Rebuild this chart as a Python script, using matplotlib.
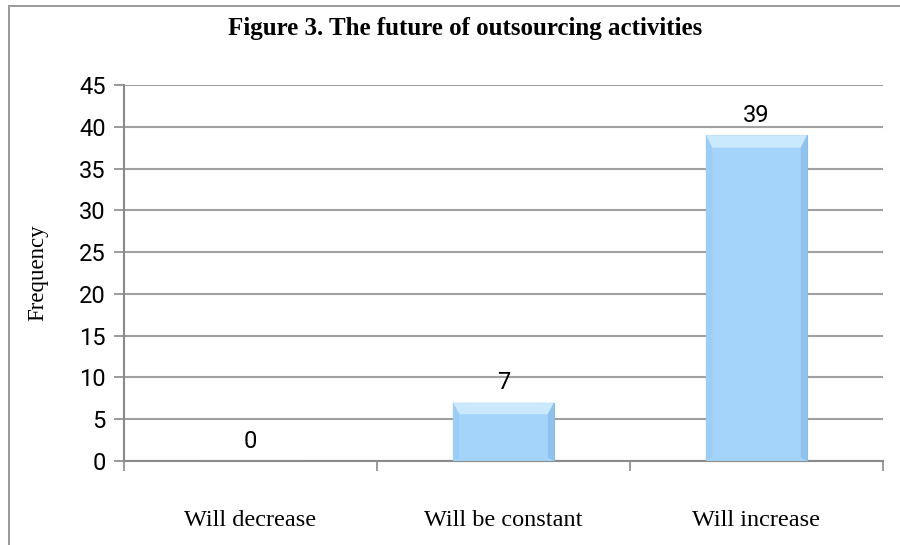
import matplotlib
matplotlib.use("Agg")
import matplotlib.pyplot as plt
from matplotlib.patches import Rectangle, Polygon
import numpy as np

# data
categories = ["Will decrease", "Will be constant", "Will increase"]
frequency = [0, 7, 39]
yticks = [0, 5, 10, 15, 20, 25, 30, 35, 40, 45]

title = "Figure 3. The future of outsourcing activities"
ylabel = "Frequency"

fig = plt.figure(figsize=(9, 5.45), dpi=100)
ax = fig.add_axes([124 / 900, 1 - 461 / 545, (883 - 124) / 900, (461 - 85) / 545])

# outer chart frame (runs off the right/bottom edge like the source)
fig.patches.append(Rectangle((9 / 900, -0.1), 1.2, 1.1 - 6 / 545,
                             transform=fig.transFigure, fill=False,
                             edgecolor="#9a9a9a", lw=1.4, zorder=0))

x = np.arange(len(categories))
w = 0.4
bars = ax.bar(x, frequency, width=w, color="#a5d4fb", edgecolor="#8cbde6",
              linewidth=0.8, zorder=3)

# bevel look on bars
for b in bars:
    h = b.get_height()
    if h <= 0:
        continue
    x0, x1 = b.get_x(), b.get_x() + b.get_width()
    dx, dy = 0.025, min(1.5, h * 0.2)
    ax.add_patch(Polygon([(x0, h), (x1, h), (x1 - dx, h - dy), (x0 + dx, h - dy)],
                         closed=True, color="#cbe9fe", lw=0, zorder=4))
    ax.add_patch(Polygon([(x1, h), (x1, 0), (x1 - dx, dy * 0.3), (x1 - dx, h - dy)],
                         closed=True, color="#8fc2ec", lw=0, zorder=4))
    ax.add_patch(Polygon([(x0, h), (x0, 0), (x0 + dx, dy * 0.3), (x0 + dx, h - dy)],
                         closed=True, color="#9ccdf5", lw=0, zorder=4))

for xi, v in zip(x, frequency):
    ax.annotate(str(v), (xi, v), xytext=(0, 6), textcoords="offset points",
                ha="center", va="bottom", fontsize=17, family="Roboto")

ax.set_xlim(-0.5, len(categories) - 0.5)
ax.set_ylim(0, 45)
ax.set_yticks(yticks)
ax.yaxis.grid(True, color="#a0a0a0", lw=1.5, zorder=0)
ax.set_axisbelow(True)

ax.set_xticks(x)
ax.set_xticklabels(categories, family="Liberation Serif", fontsize=17.5)
ax.set_xticks(np.arange(-0.5, len(categories)), minor=True)
ax.tick_params(axis="x", which="major", length=0, pad=35)
ax.tick_params(axis="x", which="minor", length=7, color="#8a8a8a", width=1.2)
ax.tick_params(axis="y", length=7, color="#8a8a8a", width=1.2, pad=6)
for t in ax.get_yticklabels():
    t.set_family("Roboto")
    t.set_fontsize(17)

for s in ["top", "right"]:
    ax.spines[s].set_visible(False)
for s in ["left", "bottom"]:
    ax.spines[s].set_color("#8a8a8a")
    ax.spines[s].set_linewidth(1.5)

ax.set_ylabel(ylabel, family="Liberation Serif", fontsize=16.5)
ax.yaxis.set_label_coords(-(124 - 48) / (883 - 124), 0.5)

fig.text(465 / 900, 1 - 28 / 545, title, ha="center", va="center",
         family="Liberation Serif", fontweight="bold", fontsize=18)

fig.savefig("out.png", dpi=100)
